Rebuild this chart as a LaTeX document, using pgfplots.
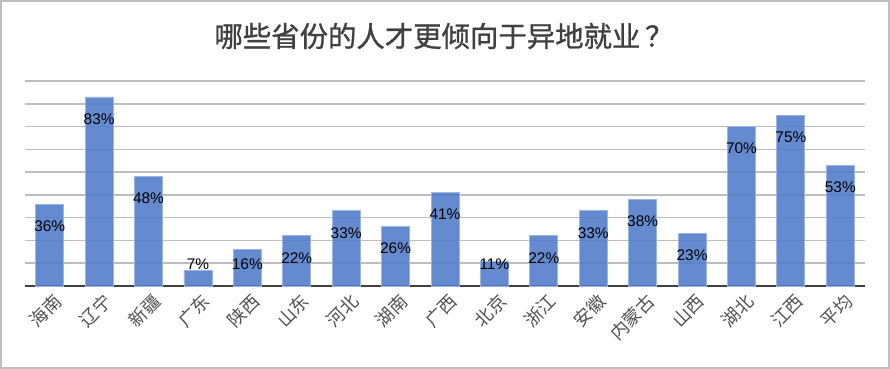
\documentclass[border=0pt]{standalone}
\usepackage{fontspec}
\setmainfont{Liberation Sans}
\newfontfamily\cjk{Noto Sans CJK SC}
\newfontfamily\cjkbold[FakeBold=1.0]{Noto Sans CJK SC}
\usepackage{pgfplots}
\usepackage{pgfplotstable}
\pgfplotsset{compat=1.18}
\definecolor{barblue}{HTML}{4E7BC8}
\definecolor{baredge}{HTML}{9DB5E0}
\definecolor{gridgray}{HTML}{BDBDBD}
\definecolor{axisdark}{HTML}{404040}
\definecolor{ticktext}{HTML}{505050}
\definecolor{framegray}{HTML}{BFBFBF}

\pgfplotstableread{
x v ly lab
0 36 26.4 36\%
1 83 73.4 83\%
2 48 38.4 48\%
3 7 9.6 7\%
4 16 9.6 16\%
5 22 12.4 22\%
6 33 23.4 33\%
7 26 16.4 26\%
8 41 31.4 41\%
9 11 9.6 11\%
10 22 12.4 22\%
11 33 23.4 33\%
12 38 28.4 38\%
13 23 13.4 23\%
14 70 60.4 70\%
15 75 65.4 75\%
16 53 43.4 53\%
}\datatable

\begin{document}
\begin{tikzpicture}
\useasboundingbox (0,0) rectangle (890bp,369bp);
\draw[framegray, line width=2bp] (1bp,1bp) rectangle (889bp,368bp);
\node[text=axisdark, font={\cjkbold\fontsize{28.5}{30}\selectfont}] at (444bp,333bp) {哪些省份的人才更倾向于异地就业\,？};
\begin{axis}[
  at={(25bp,83bp)}, anchor=south west,
  scale only axis, width=840bp, height=205bp,
  xmin=-0.5, xmax=16.5, ymin=0, ymax=90,
  enlargelimits=false, clip=false,
  axis x line*=bottom, axis y line*=left,
  x axis line style={draw=axisdark, line width=2.5bp},
  y axis line style={draw=none},
  xtick=data,
  xticklabels={海南,辽宁,新疆,广东,陕西,山东,河北,湖南,广西,北京,浙江,安徽,内蒙古,山西,湖北,江西,平均},
  xticklabel style={rotate=45, anchor=east, text=ticktext, font={\cjk\fontsize{18}{18}\selectfont}, xshift=1bp, yshift=-15bp},
  major tick length=0pt,
  ytick={10,20,...,90},
  yticklabels={},
  ymajorgrids,
  grid style={gridgray, line width=1.6bp},
]
\addplot[ybar, bar width=28bp, fill=barblue, fill opacity=0.88, draw=baredge, line width=0.8bp]
  table[x=x, y=v] {\datatable};
\addplot[only marks, mark=none, nodes near coords, point meta=explicit symbolic,
  nodes near coords align={center},
  every node near coord/.append style={font=\fontsize{15.5}{15.5}\selectfont, text=black, inner sep=0pt}]
  table[x=x, y=ly, meta=lab] {\datatable};
\end{axis}
\end{tikzpicture}
\end{document}
